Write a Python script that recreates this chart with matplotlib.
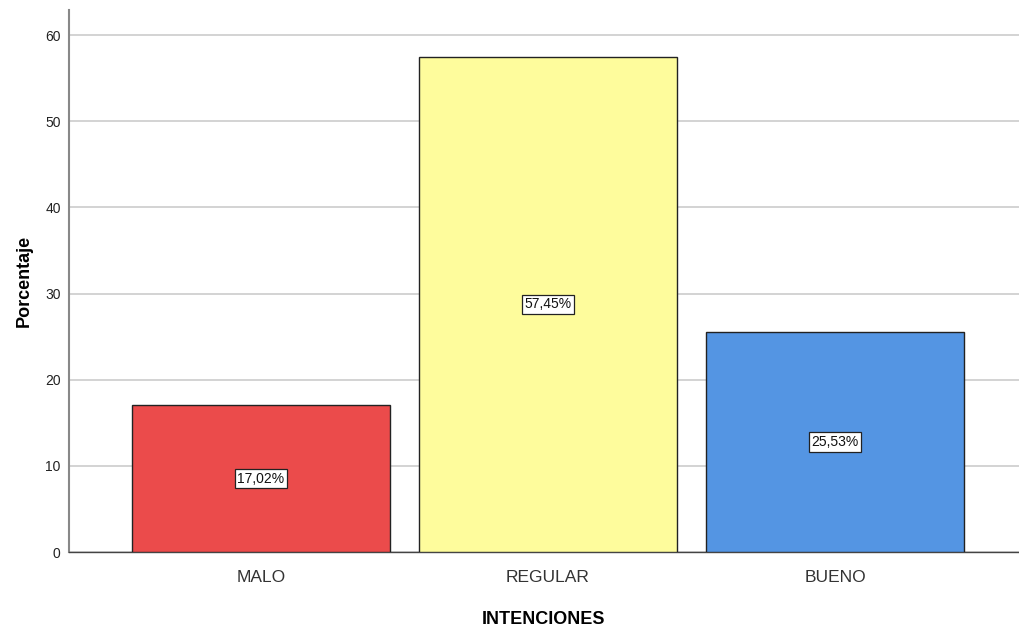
import matplotlib
matplotlib.use("Agg")
import matplotlib.pyplot as plt

categories = ["MALO", "REGULAR", "BUENO"]
percentages = [17.02, 57.45, 25.53]
bar_colors = ["#EB4B4B", "#FEFC9C", "#5495E3"]
y_ticks = [0, 10, 20, 30, 40, 50, 60]

plt.rcParams["font.family"] = ["Liberation Sans", "DejaVu Sans"]

fig = plt.figure(figsize=(10.19, 6.30), dpi=100)
ax = fig.add_axes([0.0677, 0.1238, 0.9323, 0.8603])

x = list(range(len(categories)))
bars = ax.bar(x, percentages, width=0.899, color=bar_colors,
              edgecolor="#222222", linewidth=1.0, zorder=3)

for xi, v in zip(x, percentages):
    label = f"{v:.2f}%".replace(".", ",")
    ax.text(xi, v / 2, label, ha="center", va="center", fontsize=10,
            color="#111111", zorder=4,
            bbox=dict(boxstyle="square,pad=0.2", facecolor="white",
                      edgecolor="#222222", linewidth=0.9))

ax.set_xlim(-0.669, 2.641)
ax.set_ylim(0, 62.9)
ax.set_yticks(y_ticks)
ax.set_xticks(x)
ax.set_xticklabels(categories, fontsize=12.5, color="#333333")
ax.tick_params(axis="y", length=0, pad=6, labelsize=10, labelcolor="#222222")
ax.tick_params(axis="x", length=0, pad=13)

ax.yaxis.grid(True, color="#CCCCCC", linewidth=1.2, zorder=0)
ax.set_axisbelow(True)

for side in ("top", "right"):
    ax.spines[side].set_visible(False)
ax.spines["left"].set_color("#888888")
ax.spines["left"].set_linewidth(1.5)
ax.spines["bottom"].set_color("#444444")
ax.spines["bottom"].set_linewidth(1.0)

ax.set_ylabel("Porcentaje", fontsize=13, fontweight="bold", labelpad=9)
ax.set_xlabel("INTENCIONES", fontsize=13, fontweight="bold", labelpad=19)

fig.savefig("out.png", dpi=100)
